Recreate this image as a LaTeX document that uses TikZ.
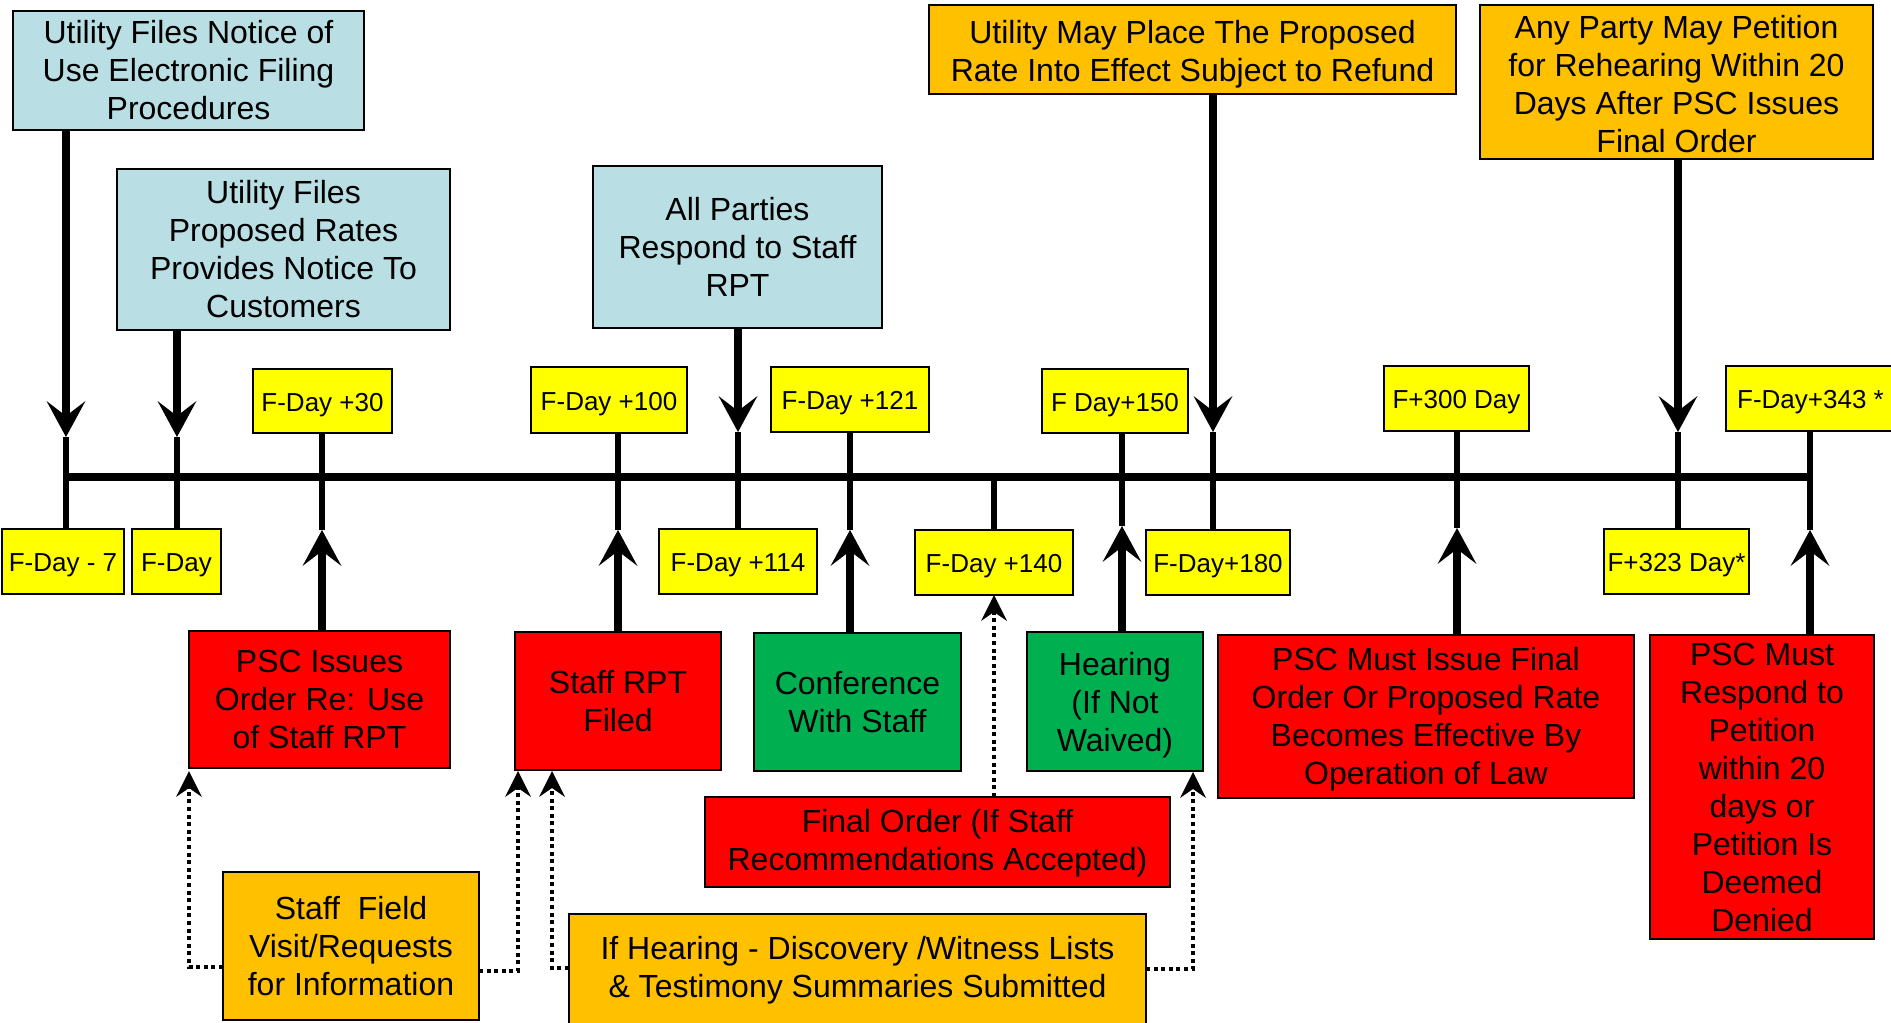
\documentclass[tikz,border=0pt]{standalone}
\usepackage{fontspec}
\setmainfont{Liberation Sans}
\usetikzlibrary{arrows.meta}
\definecolor{lblue}{RGB}{185,223,228}
\definecolor{gold}{RGB}{255,192,0}
\definecolor{ylw}{RGB}{255,255,0}
\definecolor{rd}{RGB}{255,0,0}
\definecolor{grn}{RGB}{0,176,80}
\newcommand\bx[7]{\node[box,#6,minimum width={(#4)-(#2)},minimum height={(#5)-(#3)}] (#1) at ({((#2)+(#4))/2},{((#3)+(#5))/2}) {#7};}
\begin{document}
\begin{tikzpicture}[x=1pt,y=-1pt,
  box/.style={draw=black,line width=2pt,inner sep=0pt,outer sep=0pt,align=center,font=\fontsize{32}{38}\selectfont},
  lab/.style={fill=ylw,font=\fontsize{26}{30}\selectfont,text height=25pt,text depth=5pt},
  bigarrow/.style={line width=8pt,-{Stealth[length=36pt,width=39pt,inset=15pt,line width=0pt]}},
  tick/.style={line width=6pt},
  timeline/.style={line width=8pt},
  dotarrow/.style={line width=4.2pt,dash pattern=on 4pt off 3.6pt,-{Stealth[length=26pt,width=26pt,inset=9pt,line width=0pt]}}]
\useasboundingbox[fill=white] (0,0) rectangle (1891,1023);
% top boxes
\bx{b1}{13}{11}{364}{130}{fill=lblue}{Utility Files Notice of\\Use Electronic Filing\\Procedures}
\bx{b2}{117}{169}{450}{330}{fill=lblue}{Utility Files\\Proposed Rates\\Provides Notice To\\Customers}
\bx{b3}{593}{166}{882}{328}{fill=lblue}{All Parties\\Respond to Staff\\RPT}
\bx{b4}{929}{5}{1456}{94}{fill=gold}{\rule{0pt}{33pt}Utility May Place The Proposed\\Rate Into Effect Subject to Refund}
\bx{b5}{1480}{5}{1873}{159}{fill=gold}{\rule{0pt}{27pt}Any Party May Petition\\for Rehearing Within 20\\Days After PSC Issues\\Final Order}
% day labels
\bx{l30}{253}{369}{392}{433}{lab}{F-Day +30}
\bx{l100}{531}{367}{687}{433}{lab}{F-Day +100}
\bx{l121}{771}{367}{929}{432}{lab}{F-Day +121}
\bx{l150}{1042}{369}{1188}{433}{lab}{F Day+150}
\bx{l300}{1384}{366}{1529}{431}{lab}{F+300 Day}
\bx{l343}{1726}{366}{1895}{431}{lab}{F-Day+343 *}
\bx{lm7}{2}{529}{124}{594}{lab}{F-Day - 7}
\bx{l0}{132}{529}{221}{594}{lab}{F-Day}
\bx{l114}{659}{529}{817}{594}{lab}{F-Day +114}
\bx{l140}{915}{530}{1073}{595}{lab}{F-Day +140}
\bx{l180}{1146}{530}{1290}{595}{lab}{F-Day+180}
\bx{l323}{1604}{529}{1749}{594}{lab}{F+323 Day*}
% lower boxes
\bx{r30}{189}{631}{450}{768}{fill=rd}{PSC Issues\\Order Re: Use\\of Staff RPT}
\bx{rs}{515}{632}{721}{770}{fill=rd}{Staff RPT\\Filed}
\bx{conf}{754}{633}{961}{771}{fill=grn}{Conference\\With Staff}
\bx{hear}{1027}{632}{1203}{771}{fill=grn}{\rule{0pt}{30pt}Hearing\\(If Not\\Waived)}
\bx{pmi}{1218}{635}{1634}{798}{fill=rd}{\rule{0pt}{28pt}PSC Must Issue Final\\Order Or Proposed Rate\\Becomes Effective By\\Operation of Law}
\bx{pmr}{1650}{635}{1874}{939}{fill=rd}{PSC Must\\Respond to\\Petition\\within 20\\days or\\Petition Is\\Deemed\\Denied}
\bx{fo}{705}{797}{1170}{887}{fill=rd}{\rule{0pt}{26pt}Final Order (If Staff\\Recommendations Accepted)}
\bx{sf}{223}{872}{479}{1020}{fill=gold}{Staff~ Field\\Visit/Requests\\for Information}
\bx{ih}{569}{914}{1146}{1026}{fill=gold}{If Hearing - Discovery /Witness Lists\\\& Testimony Summaries Submitted}
% timeline
\coordinate (tl0) at (66,477);
\coordinate (tl1) at (1810,477);
\draw[timeline] (tl0) -- (tl1);
% tip coordinates
\coordinate (tA) at (66,437);
\coordinate (tB) at (177,437);
\coordinate (tC) at (322,530);
\coordinate (tD) at (618,530);
\coordinate (tE) at (738,432);
\coordinate (tF) at (850,530);
\coordinate (tG) at (994,477);
\coordinate (tH) at (1122,526);
\coordinate (tI) at (1213,432);
\coordinate (tJ) at (1457,528);
\coordinate (tK) at (1678,432);
\coordinate (tL) at (1810,530);
% arrows from top boxes
\draw[bigarrow] (b1.south -| tA) -- (tA);
\draw[tick] (tA) -- (tA |- lm7.north);
\draw[bigarrow] (b2.south -| tB) -- (tB);
\draw[tick] (tB) -- (tB |- l0.north);
\draw[bigarrow] (b3.south -| tE) -- (tE);
\draw[tick] (tE) -- (tE |- l114.north);
\draw[bigarrow] (b4.south -| tI) -- (tI);
\draw[tick] (tI) -- (tI |- l180.north);
\draw[bigarrow] (b5.south -| tK) -- (tK);
\draw[tick] (tK) -- (tK |- l323.north);
% ticks from upper labels and arrows from lower boxes
\draw[tick] (l30.south -| tC) -- (tC);
\draw[bigarrow] (r30.north -| tC) -- (tC);
\draw[tick] (l100.south -| tD) -- (tD);
\draw[bigarrow] (rs.north -| tD) -- (tD);
\draw[tick] (l121.south -| tF) -- (tF);
\draw[bigarrow] (conf.north -| tF) -- (tF);
\draw[tick] (tG) -- (l140.north);
\draw[tick] (l150.south -| tH) -- (tH);
\draw[bigarrow] (hear.north -| tH) -- (tH);
\draw[tick] (l300.south -| tJ) -- (tJ);
\draw[bigarrow] (pmi.north -| tJ) -- (tJ);
\draw[tick] (l343.south -| tL) -- (tL);
\draw[bigarrow] (pmr.north -| tL) -- (tL);
% dotted connectors
\draw[dotarrow] ([yshift=-21pt]sf.west) -| ([yshift=-3pt]r30.south west);
\draw[dotarrow] ([yshift=-25pt]sf.east) -| ([xshift=3pt,yshift=-1pt]rs.south west);
\draw[dotarrow] ([yshift=2pt]ih.west) -| ([xshift=37pt,yshift=-1pt]rs.south west);
\draw[dotarrow] ([yshift=1pt]ih.east) -| ([xshift=-10pt,yshift=-1pt]hear.south east);
\draw[dotarrow] (fo.north -| l140.south) -- (l140.south);
\end{tikzpicture}
\end{document}
